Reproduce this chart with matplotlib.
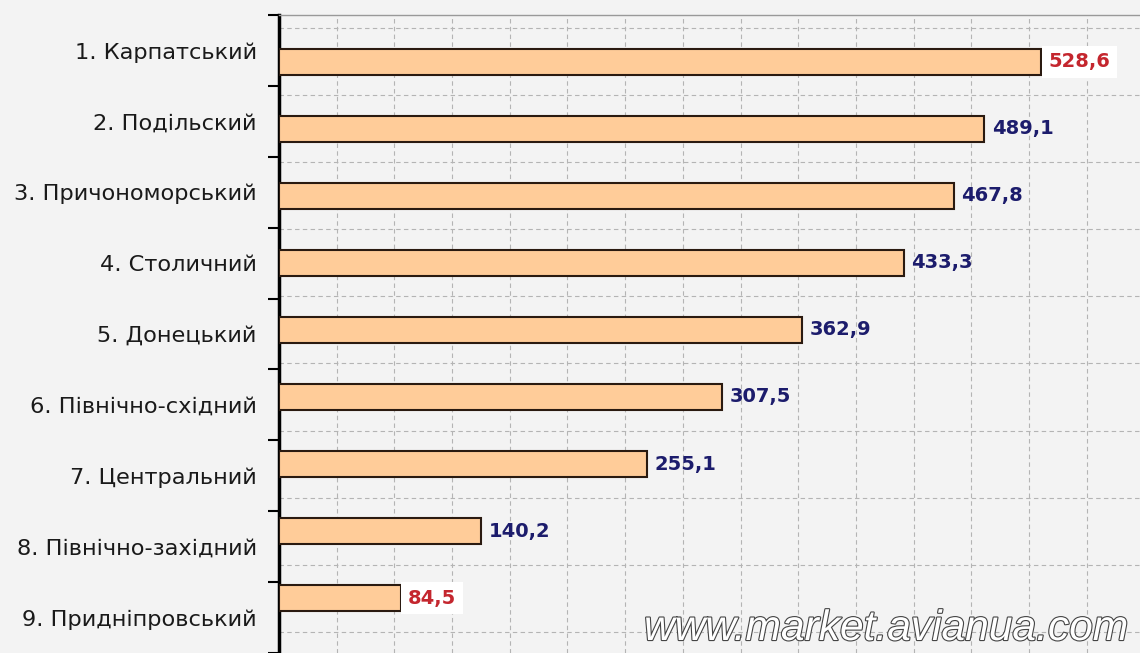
import matplotlib.pyplot as plt
import matplotlib.patheffects as pe
import numpy as np

regions = ['1. Карпатський', '2. Подільский', '3. Причономорський', '4. Столичний',
           '5. Донецький', '6. Північно-східний', '7. Центральний',
           '8. Північно-західний', '9. Придніпровський']
values = [528.6, 489.1, 467.8, 433.3, 362.9, 307.5, 255.1, 140.2, 84.5]
value_labels = ['528,6', '489,1', '467,8', '433,3', '362,9', '307,5', '255,1', '140,2', '84,5']

bg = '#F3F3F3'
fig = plt.figure(figsize=(11.4, 6.53), dpi=100, facecolor=bg)
ax = fig.add_axes([279 / 1140, 0, 1 - 279 / 1140, 1 - 15 / 653])
ax.set_facecolor(bg)

y = np.arange(len(values))
ax.barh(y, values, height=0.39, color='#FFCC99', edgecolor='#2a1a10', linewidth=1.5, zorder=3)

ax.set_xlim(0, 597)
ax.set_ylim(8.82, -0.70)

# value labels; the largest and smallest are red on white
vmax, vmin = max(values), min(values)
for yi, v, lab in zip(y, values, value_labels):
    if v in (vmax, vmin):
        ax.text(v + 5, yi, lab, color='#c4262e', fontsize=14, fontweight='bold',
                va='center', ha='left', zorder=5,
                bbox=dict(boxstyle='square,pad=0.35', fc='white', ec='none'))
    else:
        ax.text(v + 5, yi, lab, color='#1c1c6c', fontsize=14, fontweight='bold',
                va='center', ha='left', zorder=5)

# grid
ax.set_xticks(np.arange(0, 600, 40))
ax.tick_params(axis='x', length=0, labelbottom=False)
ax.grid(axis='x', color='#b4b4b4', linestyle=(0, (4, 3)), linewidth=0.8, zorder=1)
for g in np.arange(-0.5, 9, 1):
    ax.axhline(g, color='#b4b4b4', linestyle=(0, (4, 3)), linewidth=0.8, zorder=1)

# category labels sit in equal bands over the full axis height
lo, hi = -0.70, 8.82
bounds = np.linspace(lo, hi, len(regions) + 1)
centers = (bounds[:-1] + bounds[1:]) / 2
ax.set_yticks(centers)
ax.set_yticklabels(regions, fontsize=16.2, color='#1a1a1a')
ax.tick_params(axis='y', which='major', length=0, pad=16)
ax.set_yticks(bounds, minor=True)
ax.tick_params(axis='y', which='minor', length=8, width=1.5, color='black')

ax.spines['left'].set_linewidth(2.5)
ax.spines['left'].set_color('black')
ax.spines['top'].set_color('#999999')
ax.spines['top'].set_linewidth(1)
ax.spines['right'].set_visible(False)
ax.spines['bottom'].set_visible(False)

# watermark
fig.text(1128 / 1140, 1 - 640 / 653, 'www.market.avianua.com', ha='right', va='baseline',
         fontsize=30.6, style='italic', family='Liberation Sans', color='white',
         path_effects=[pe.Stroke(linewidth=1.6, foreground='#444444'), pe.Normal()])

fig.savefig('out.png', dpi=100, facecolor=bg)
